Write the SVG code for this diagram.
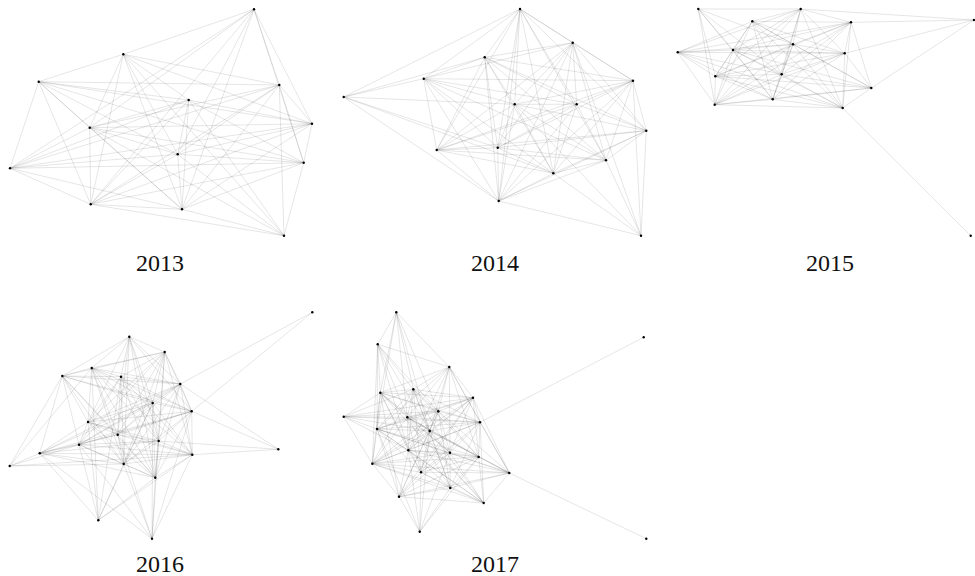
<svg xmlns="http://www.w3.org/2000/svg" width="975" height="576" viewBox="0 0 975 576">
<style>
.e{stroke:#000;stroke-opacity:0.13;stroke-width:0.8;fill:none}
.n{fill:#000}
.t{font-family:"Liberation Serif","Times New Roman",serif;font-size:24px;fill:#111;text-anchor:middle}
</style>
<rect width="975" height="576" fill="#fff"/>
<g id="connectors">
<g id="edges-2013">
<path class="e" d="M254 9.3L123.3 54.3M254 9.3L279.3 85M254 9.3L312 123.7M254 9.3L303.7 162.7M254 9.3L89.7 127.7M254 9.3L10 168.3M254 9.3L177.7 154.3M254 9.3L182 209.3M254 9.3L90.7 204.3"/>
<path class="e" d="M123.3 54.3L38.7 81.7M123.3 54.3L279.3 85M123.3 54.3L188.7 100M123.3 54.3L312 123.7M123.3 54.3L89.7 127.7M123.3 54.3L177.7 154.3M123.3 54.3L90.7 204.3M123.3 54.3L182 209.3M123.3 54.3L284 235.7"/>
<path class="e" d="M38.7 81.7L279.3 85M38.7 81.7L188.7 100M38.7 81.7L312 123.7M38.7 81.7L89.7 127.7M38.7 81.7L10 168.3M38.7 81.7L90.7 204.3M38.7 81.7L182 209.3M38.7 81.7L303.7 162.7M38.7 81.7L177.7 154.3"/>
<path class="e" d="M279.3 85L312 123.7M279.3 85L303.7 162.7M279.3 85L284 235.7M279.3 85L89.7 127.7M279.3 85L90.7 204.3M279.3 85L182 209.3M279.3 85L10 168.3M279.3 85L177.7 154.3"/>
<path class="e" d="M188.7 100L312 123.7M188.7 100L89.7 127.7M188.7 100L177.7 154.3M188.7 100L303.7 162.7M188.7 100L10 168.3M188.7 100L90.7 204.3M188.7 100L182 209.3M188.7 100L284 235.7"/>
<path class="e" d="M312 123.7L303.7 162.7M312 123.7L89.7 127.7M312 123.7L177.7 154.3M312 123.7L90.7 204.3M312 123.7L182 209.3M312 123.7L10 168.3"/>
<path class="e" d="M89.7 127.7L177.7 154.3M89.7 127.7L303.7 162.7M89.7 127.7L90.7 204.3M89.7 127.7L182 209.3M89.7 127.7L10 168.3M89.7 127.7L284 235.7"/>
<path class="e" d="M177.7 154.3L303.7 162.7M177.7 154.3L90.7 204.3M177.7 154.3L182 209.3M177.7 154.3L284 235.7M177.7 154.3L10 168.3"/>
<path class="e" d="M303.7 162.7L284 235.7M303.7 162.7L90.7 204.3M303.7 162.7L182 209.3M303.7 162.7L10 168.3"/>
<path class="e" d="M10 168.3L90.7 204.3M10 168.3L182 209.3M90.7 204.3L182 209.3M90.7 204.3L284 235.7M182 209.3L284 235.7"/>
</g>
<g id="edges-2014">
<path class="e" d="M520 9L572.7 42.7M520 9L484.7 57.3M520 9L423.7 78.7M520 9L343.7 97M520 9L633 80.7M520 9L514.7 104.3M520 9L576.7 104.3M520 9L497.7 147.7M520 9L498.7 201M520 9L553.3 173.3M520 9L606 160.3M520 9L436.7 150M520 9L646.3 130.7"/>
<path class="e" d="M572.7 42.7L484.7 57.3M572.7 42.7L423.7 78.7M572.7 42.7L633 80.7M572.7 42.7L514.7 104.3M572.7 42.7L576.7 104.3M572.7 42.7L436.7 150M572.7 42.7L497.7 147.7M572.7 42.7L606 160.3M572.7 42.7L553.3 173.3M572.7 42.7L498.7 201M572.7 42.7L641 235.7M572.7 42.7L646.3 130.7"/>
<path class="e" d="M484.7 57.3L423.7 78.7M484.7 57.3L633 80.7M484.7 57.3L514.7 104.3M484.7 57.3L576.7 104.3M484.7 57.3L436.7 150M484.7 57.3L497.7 147.7M484.7 57.3L606 160.3M484.7 57.3L553.3 173.3M484.7 57.3L498.7 201M484.7 57.3L646.3 130.7"/>
<path class="e" d="M423.7 78.7L633 80.7M423.7 78.7L514.7 104.3M423.7 78.7L576.7 104.3M423.7 78.7L436.7 150M423.7 78.7L497.7 147.7M423.7 78.7L606 160.3M423.7 78.7L553.3 173.3M423.7 78.7L498.7 201"/>
<path class="e" d="M633 80.7L514.7 104.3M633 80.7L576.7 104.3M633 80.7L646.3 130.7M633 80.7L436.7 150M633 80.7L497.7 147.7M633 80.7L606 160.3M633 80.7L553.3 173.3M633 80.7L498.7 201M633 80.7L641 235.7"/>
<path class="e" d="M343.7 97L484.7 57.3M343.7 97L423.7 78.7M343.7 97L514.7 104.3M343.7 97L497.7 147.7M343.7 97L498.7 201M343.7 97L553.3 173.3"/>
<path class="e" d="M514.7 104.3L576.7 104.3M514.7 104.3L646.3 130.7M514.7 104.3L436.7 150M514.7 104.3L497.7 147.7M514.7 104.3L606 160.3M514.7 104.3L553.3 173.3M514.7 104.3L498.7 201M514.7 104.3L641 235.7"/>
<path class="e" d="M576.7 104.3L646.3 130.7M576.7 104.3L436.7 150M576.7 104.3L497.7 147.7M576.7 104.3L606 160.3M576.7 104.3L553.3 173.3M576.7 104.3L498.7 201"/>
<path class="e" d="M646.3 130.7L436.7 150M646.3 130.7L497.7 147.7M646.3 130.7L606 160.3M646.3 130.7L553.3 173.3M646.3 130.7L498.7 201M646.3 130.7L641 235.7"/>
<path class="e" d="M436.7 150L497.7 147.7M436.7 150L606 160.3M436.7 150L553.3 173.3M436.7 150L498.7 201M497.7 147.7L606 160.3M497.7 147.7L553.3 173.3M497.7 147.7L498.7 201"/>
<path class="e" d="M606 160.3L553.3 173.3M606 160.3L498.7 201M606 160.3L641 235.7M553.3 173.3L498.7 201M553.3 173.3L641 235.7M498.7 201L641 235.7"/>
</g>
<g id="edges-2015">
<path class="e" d="M974 20L800.7 9M974 20L851 22.3M974 20L844.7 53.3M974 20L871.3 88M970.7 235.7L842.7 108"/>
<path class="e" d="M698.3 9L800.7 9M698.3 9L733 50M698.3 9L715.3 76.3M698.3 9L714.7 104.7M698.3 9L772.7 99.3M698.3 9L781.7 74.3M698.3 9L793 44.3"/>
<path class="e" d="M800.7 9L752.3 21.3M800.7 9L851 22.3M800.7 9L677.7 52.3M800.7 9L733 50M800.7 9L793 44.3M800.7 9L781.7 74.3M800.7 9L772.7 99.3M800.7 9L714.7 104.7M800.7 9L844.7 53.3M800.7 9L842.7 108M800.7 9L715.3 76.3"/>
<path class="e" d="M752.3 21.3L851 22.3M752.3 21.3L677.7 52.3M752.3 21.3L733 50M752.3 21.3L793 44.3M752.3 21.3L844.7 53.3M752.3 21.3L715.3 76.3M752.3 21.3L781.7 74.3M752.3 21.3L871.3 88M752.3 21.3L772.7 99.3M752.3 21.3L714.7 104.7M752.3 21.3L842.7 108"/>
<path class="e" d="M851 22.3L677.7 52.3M851 22.3L733 50M851 22.3L793 44.3M851 22.3L844.7 53.3M851 22.3L715.3 76.3M851 22.3L781.7 74.3M851 22.3L871.3 88M851 22.3L772.7 99.3M851 22.3L714.7 104.7M851 22.3L842.7 108"/>
<path class="e" d="M677.7 52.3L733 50M677.7 52.3L793 44.3M677.7 52.3L844.7 53.3M677.7 52.3L715.3 76.3M677.7 52.3L781.7 74.3M677.7 52.3L772.7 99.3M677.7 52.3L714.7 104.7M677.7 52.3L842.7 108"/>
<path class="e" d="M733 50L793 44.3M733 50L844.7 53.3M733 50L715.3 76.3M733 50L781.7 74.3M733 50L871.3 88M733 50L772.7 99.3M733 50L714.7 104.7M733 50L842.7 108"/>
<path class="e" d="M793 44.3L844.7 53.3M793 44.3L715.3 76.3M793 44.3L781.7 74.3M793 44.3L871.3 88M793 44.3L772.7 99.3M793 44.3L714.7 104.7M793 44.3L842.7 108"/>
<path class="e" d="M844.7 53.3L715.3 76.3M844.7 53.3L781.7 74.3M844.7 53.3L871.3 88M844.7 53.3L772.7 99.3M844.7 53.3L714.7 104.7M844.7 53.3L842.7 108"/>
<path class="e" d="M715.3 76.3L781.7 74.3M715.3 76.3L871.3 88M715.3 76.3L772.7 99.3M715.3 76.3L714.7 104.7M715.3 76.3L842.7 108M781.7 74.3L871.3 88M781.7 74.3L772.7 99.3M781.7 74.3L714.7 104.7M781.7 74.3L842.7 108"/>
<path class="e" d="M871.3 88L772.7 99.3M871.3 88L714.7 104.7M871.3 88L842.7 108M772.7 99.3L714.7 104.7M772.7 99.3L842.7 108M714.7 104.7L842.7 108"/>
</g>
<g id="edges-2016">
<path class="e" d="M312.3 312.3L180.3 384M312.3 312.3L191.7 411.3M278.3 449.3L180.3 384M278.3 449.3L191.7 411.3M278.3 449.3L158.7 441M278.3 449.3L192.3 454.7"/>
<path class="e" d="M9.7 466L39.7 453.3M9.7 466L62.3 376M9.7 466L91.7 368M9.7 466L123.7 464M9.7 466L192.3 454.7M9.7 466L79 444.7"/>
<path class="e" d="M98.3 520.3L39.7 453.3M98.3 520.3L79 444.7M98.3 520.3L88 422M98.3 520.3L91.7 368M98.3 520.3L121 376.7M98.3 520.3L123.7 464M98.3 520.3L155.3 477.7M98.3 520.3L192.3 454.7M98.3 520.3L152.7 403"/>
<path class="e" d="M152 538.7L39.7 453.3M152 538.7L117.7 434.7M152 538.7L123.7 464M152 538.7L155.3 477.7M152 538.7L192.3 454.7M152 538.7L158.7 441M152 538.7L191.7 411.3M152 538.7L152.7 403M152 538.7L79 444.7"/>
<path class="e" d="M129.3 336.7L164.7 352M129.3 336.7L91.7 368M129.3 336.7L62.3 376M129.3 336.7L121 376.7M129.3 336.7L180.3 384M129.3 336.7L152.7 403M129.3 336.7L88 422M129.3 336.7L117.7 434.7M129.3 336.7L158.7 441M129.3 336.7L191.7 411.3M129.3 336.7L123.7 464M129.3 336.7L155.3 477.7"/>
<path class="e" d="M164.7 352L91.7 368M164.7 352L62.3 376M164.7 352L121 376.7M164.7 352L180.3 384M164.7 352L152.7 403M164.7 352L191.7 411.3M164.7 352L88 422M164.7 352L117.7 434.7M164.7 352L158.7 441M164.7 352L79 444.7M164.7 352L192.3 454.7M164.7 352L123.7 464M164.7 352L155.3 477.7"/>
<path class="e" d="M91.7 368L62.3 376M91.7 368L121 376.7M91.7 368L180.3 384M91.7 368L152.7 403M91.7 368L191.7 411.3M91.7 368L88 422M91.7 368L117.7 434.7M91.7 368L158.7 441M91.7 368L192.3 454.7M91.7 368L123.7 464M91.7 368L155.3 477.7"/>
<path class="e" d="M62.3 376L121 376.7M62.3 376L180.3 384M62.3 376L191.7 411.3M62.3 376L88 422M62.3 376L117.7 434.7M62.3 376L79 444.7M62.3 376L39.7 453.3M62.3 376L123.7 464M62.3 376L155.3 477.7M62.3 376L152.7 403"/>
<path class="e" d="M121 376.7L180.3 384M121 376.7L152.7 403M121 376.7L191.7 411.3M121 376.7L88 422M121 376.7L117.7 434.7M121 376.7L158.7 441M121 376.7L79 444.7M121 376.7L192.3 454.7M121 376.7L123.7 464M121 376.7L155.3 477.7"/>
<path class="e" d="M180.3 384L152.7 403M180.3 384L191.7 411.3M180.3 384L88 422M180.3 384L117.7 434.7M180.3 384L158.7 441M180.3 384L79 444.7M180.3 384L39.7 453.3M180.3 384L192.3 454.7M180.3 384L123.7 464M180.3 384L155.3 477.7"/>
<path class="e" d="M152.7 403L191.7 411.3M152.7 403L88 422M152.7 403L117.7 434.7M152.7 403L158.7 441M152.7 403L79 444.7M152.7 403L39.7 453.3M152.7 403L192.3 454.7M152.7 403L123.7 464M152.7 403L155.3 477.7"/>
<path class="e" d="M191.7 411.3L88 422M191.7 411.3L117.7 434.7M191.7 411.3L158.7 441M191.7 411.3L79 444.7M191.7 411.3L39.7 453.3M191.7 411.3L192.3 454.7M191.7 411.3L123.7 464M191.7 411.3L155.3 477.7"/>
<path class="e" d="M88 422L117.7 434.7M88 422L158.7 441M88 422L79 444.7M88 422L39.7 453.3M88 422L192.3 454.7M88 422L123.7 464M88 422L155.3 477.7"/>
<path class="e" d="M117.7 434.7L158.7 441M117.7 434.7L79 444.7M117.7 434.7L39.7 453.3M117.7 434.7L192.3 454.7M117.7 434.7L123.7 464M117.7 434.7L155.3 477.7"/>
<path class="e" d="M158.7 441L79 444.7M158.7 441L39.7 453.3M158.7 441L192.3 454.7M158.7 441L123.7 464M158.7 441L155.3 477.7M79 444.7L39.7 453.3M79 444.7L192.3 454.7M79 444.7L123.7 464M79 444.7L155.3 477.7"/>
<path class="e" d="M39.7 453.3L192.3 454.7M39.7 453.3L123.7 464M39.7 453.3L155.3 477.7M192.3 454.7L123.7 464M192.3 454.7L155.3 477.7M123.7 464L155.3 477.7"/>
</g>
<g id="edges-2017">
<path class="e" d="M643.7 337.3L480 422.3M646.3 538.7L509.3 473"/>
<path class="e" d="M396.3 312.3L377.7 344.3M396.3 312.3L449.3 367M396.3 312.3L380.3 392.7M396.3 312.3L377 429M396.3 312.3L407.3 417.3M396.3 312.3L413.3 389.3M396.3 312.3L438.3 411.3M396.3 312.3L429.7 431"/>
<path class="e" d="M377.7 344.3L449.3 367M377.7 344.3L380.3 392.7M377.7 344.3L377 429M377.7 344.3L372.3 463.7M377.7 344.3L407.3 417.3M377.7 344.3L429.7 431M377.7 344.3L438.3 411.3M377.7 344.3L408.3 450.3M377.7 344.3L413.3 389.3"/>
<path class="e" d="M343.7 416.7L380.3 392.7M343.7 416.7L377 429M343.7 416.7L372.3 463.7M343.7 416.7L407.3 417.3M343.7 416.7L438.3 411.3M343.7 416.7L429.7 431M343.7 416.7L408.3 450.3M343.7 416.7L413.3 389.3M343.7 416.7L480 422.3M343.7 416.7L473 397.7"/>
<path class="e" d="M419.7 531.7L399 496.7M419.7 531.7L408.3 450.3M419.7 531.7L421 472.3M419.7 531.7L450.3 488M419.7 531.7L450 452.7M419.7 531.7L429.7 431M419.7 531.7L377 429M419.7 531.7L478.7 457"/>
<path class="e" d="M449.3 367L413.3 389.3M449.3 367L380.3 392.7M449.3 367L473 397.7M449.3 367L438.3 411.3M449.3 367L407.3 417.3M449.3 367L480 422.3M449.3 367L429.7 431M449.3 367L377 429M449.3 367L408.3 450.3M449.3 367L450 452.7M449.3 367L478.7 457M449.3 367L509.3 473"/>
<path class="e" d="M413.3 389.3L380.3 392.7M413.3 389.3L473 397.7M413.3 389.3L438.3 411.3M413.3 389.3L407.3 417.3M413.3 389.3L480 422.3M413.3 389.3L429.7 431M413.3 389.3L377 429M413.3 389.3L408.3 450.3M413.3 389.3L450 452.7M413.3 389.3L478.7 457M413.3 389.3L372.3 463.7M413.3 389.3L421 472.3M413.3 389.3L450.3 488"/>
<path class="e" d="M380.3 392.7L473 397.7M380.3 392.7L438.3 411.3M380.3 392.7L407.3 417.3M380.3 392.7L480 422.3M380.3 392.7L429.7 431M380.3 392.7L377 429M380.3 392.7L408.3 450.3M380.3 392.7L450 452.7M380.3 392.7L372.3 463.7M380.3 392.7L421 472.3M380.3 392.7L399 496.7M380.3 392.7L483.7 503"/>
<path class="e" d="M473 397.7L438.3 411.3M473 397.7L407.3 417.3M473 397.7L480 422.3M473 397.7L429.7 431M473 397.7L377 429M473 397.7L408.3 450.3M473 397.7L450 452.7M473 397.7L478.7 457M473 397.7L372.3 463.7M473 397.7L421 472.3M473 397.7L509.3 473M473 397.7L399 496.7"/>
<path class="e" d="M438.3 411.3L407.3 417.3M438.3 411.3L480 422.3M438.3 411.3L429.7 431M438.3 411.3L377 429M438.3 411.3L408.3 450.3M438.3 411.3L450 452.7M438.3 411.3L478.7 457M438.3 411.3L372.3 463.7M438.3 411.3L421 472.3M438.3 411.3L509.3 473M438.3 411.3L450.3 488M438.3 411.3L399 496.7"/>
<path class="e" d="M407.3 417.3L480 422.3M407.3 417.3L429.7 431M407.3 417.3L377 429M407.3 417.3L408.3 450.3M407.3 417.3L450 452.7M407.3 417.3L478.7 457M407.3 417.3L372.3 463.7M407.3 417.3L421 472.3M407.3 417.3L509.3 473M407.3 417.3L450.3 488M407.3 417.3L483.7 503"/>
<path class="e" d="M480 422.3L429.7 431M480 422.3L377 429M480 422.3L408.3 450.3M480 422.3L450 452.7M480 422.3L478.7 457M480 422.3L372.3 463.7M480 422.3L421 472.3M480 422.3L509.3 473M480 422.3L450.3 488M480 422.3L483.7 503"/>
<path class="e" d="M429.7 431L377 429M429.7 431L408.3 450.3M429.7 431L450 452.7M429.7 431L478.7 457M429.7 431L372.3 463.7M429.7 431L421 472.3M429.7 431L509.3 473M429.7 431L450.3 488M429.7 431L399 496.7M429.7 431L483.7 503"/>
<path class="e" d="M377 429L408.3 450.3M377 429L450 452.7M377 429L478.7 457M377 429L372.3 463.7M377 429L421 472.3M377 429L509.3 473M377 429L399 496.7M377 429L483.7 503"/>
<path class="e" d="M408.3 450.3L450 452.7M408.3 450.3L478.7 457M408.3 450.3L372.3 463.7M408.3 450.3L421 472.3M408.3 450.3L509.3 473M408.3 450.3L450.3 488M408.3 450.3L399 496.7M408.3 450.3L483.7 503"/>
<path class="e" d="M450 452.7L478.7 457M450 452.7L372.3 463.7M450 452.7L421 472.3M450 452.7L509.3 473M450 452.7L450.3 488M450 452.7L399 496.7M450 452.7L483.7 503"/>
<path class="e" d="M478.7 457L372.3 463.7M478.7 457L421 472.3M478.7 457L509.3 473M478.7 457L450.3 488M478.7 457L399 496.7M478.7 457L483.7 503M372.3 463.7L421 472.3M372.3 463.7L509.3 473M372.3 463.7L450.3 488M372.3 463.7L399 496.7M372.3 463.7L483.7 503"/>
<path class="e" d="M421 472.3L509.3 473M421 472.3L450.3 488M421 472.3L399 496.7M421 472.3L483.7 503M509.3 473L450.3 488M509.3 473L399 496.7M509.3 473L483.7 503M450.3 488L399 496.7M450.3 488L483.7 503M399 496.7L483.7 503"/>
</g>
</g>
<g id="nodes-2013">
<g id="n13a"><circle class="n" cx="254" cy="9.3" r="1.2"/></g>
<g id="n13b"><circle class="n" cx="123.3" cy="54.3" r="1.2"/></g>
<g id="n13c"><circle class="n" cx="38.7" cy="81.7" r="1.2"/></g>
<g id="n13d"><circle class="n" cx="279.3" cy="85" r="1.2"/></g>
<g id="n13e"><circle class="n" cx="188.7" cy="100" r="1.2"/></g>
<g id="n13f"><circle class="n" cx="312" cy="123.7" r="1.2"/></g>
<g id="n13g"><circle class="n" cx="89.7" cy="127.7" r="1.2"/></g>
<g id="n13h"><circle class="n" cx="177.7" cy="154.3" r="1.2"/></g>
<g id="n13i"><circle class="n" cx="303.7" cy="162.7" r="1.2"/></g>
<g id="n13j"><circle class="n" cx="10" cy="168.3" r="1.2"/></g>
<g id="n13k"><circle class="n" cx="90.7" cy="204.3" r="1.2"/></g>
<g id="n13l"><circle class="n" cx="182" cy="209.3" r="1.2"/></g>
<g id="n13m"><circle class="n" cx="284" cy="235.7" r="1.2"/></g>
</g>
<g id="nodes-2014">
<g id="n14a"><circle class="n" cx="520" cy="9" r="1.2"/></g>
<g id="n14b"><circle class="n" cx="572.7" cy="42.7" r="1.2"/></g>
<g id="n14c"><circle class="n" cx="484.7" cy="57.3" r="1.2"/></g>
<g id="n14d"><circle class="n" cx="423.7" cy="78.7" r="1.2"/></g>
<g id="n14e"><circle class="n" cx="633" cy="80.7" r="1.2"/></g>
<g id="n14f"><circle class="n" cx="343.7" cy="97" r="1.2"/></g>
<g id="n14g"><circle class="n" cx="514.7" cy="104.3" r="1.2"/></g>
<g id="n14h"><circle class="n" cx="576.7" cy="104.3" r="1.2"/></g>
<g id="n14i"><circle class="n" cx="646.3" cy="130.7" r="1.2"/></g>
<g id="n14j"><circle class="n" cx="436.7" cy="150" r="1.2"/></g>
<g id="n14k"><circle class="n" cx="497.7" cy="147.7" r="1.2"/></g>
<g id="n14l"><circle class="n" cx="606" cy="160.3" r="1.2"/></g>
<g id="n14m"><circle class="n" cx="553.3" cy="173.3" r="1.2"/></g>
<g id="n14n"><circle class="n" cx="498.7" cy="201" r="1.2"/></g>
<g id="n14o"><circle class="n" cx="641" cy="235.7" r="1.2"/></g>
</g>
<g id="nodes-2015">
<g id="n15a"><circle class="n" cx="698.3" cy="9" r="1.2"/></g>
<g id="n15b"><circle class="n" cx="800.7" cy="9" r="1.2"/></g>
<g id="n15c"><circle class="n" cx="752.3" cy="21.3" r="1.2"/></g>
<g id="n15d"><circle class="n" cx="851" cy="22.3" r="1.2"/></g>
<g id="n15e"><circle class="n" cx="974" cy="20" r="1.2"/></g>
<g id="n15f"><circle class="n" cx="677.7" cy="52.3" r="1.2"/></g>
<g id="n15g"><circle class="n" cx="733" cy="50" r="1.2"/></g>
<g id="n15h"><circle class="n" cx="793" cy="44.3" r="1.2"/></g>
<g id="n15i"><circle class="n" cx="844.7" cy="53.3" r="1.2"/></g>
<g id="n15j"><circle class="n" cx="715.3" cy="76.3" r="1.2"/></g>
<g id="n15k"><circle class="n" cx="781.7" cy="74.3" r="1.2"/></g>
<g id="n15l"><circle class="n" cx="871.3" cy="88" r="1.2"/></g>
<g id="n15m"><circle class="n" cx="772.7" cy="99.3" r="1.2"/></g>
<g id="n15n"><circle class="n" cx="714.7" cy="104.7" r="1.2"/></g>
<g id="n15o"><circle class="n" cx="842.7" cy="108" r="1.2"/></g>
<g id="n15p"><circle class="n" cx="970.7" cy="235.7" r="1.2"/></g>
</g>
<g id="nodes-2016">
<g id="n16a"><circle class="n" cx="312.3" cy="312.3" r="1.2"/></g>
<g id="n16b"><circle class="n" cx="129.3" cy="336.7" r="1.2"/></g>
<g id="n16c"><circle class="n" cx="164.7" cy="352" r="1.2"/></g>
<g id="n16d"><circle class="n" cx="91.7" cy="368" r="1.2"/></g>
<g id="n16e"><circle class="n" cx="62.3" cy="376" r="1.2"/></g>
<g id="n16f"><circle class="n" cx="121" cy="376.7" r="1.2"/></g>
<g id="n16g"><circle class="n" cx="180.3" cy="384" r="1.2"/></g>
<g id="n16h"><circle class="n" cx="152.7" cy="403" r="1.2"/></g>
<g id="n16i"><circle class="n" cx="191.7" cy="411.3" r="1.2"/></g>
<g id="n16j"><circle class="n" cx="88" cy="422" r="1.2"/></g>
<g id="n16k"><circle class="n" cx="117.7" cy="434.7" r="1.2"/></g>
<g id="n16l"><circle class="n" cx="158.7" cy="441" r="1.2"/></g>
<g id="n16m"><circle class="n" cx="79" cy="444.7" r="1.2"/></g>
<g id="n16n"><circle class="n" cx="278.3" cy="449.3" r="1.2"/></g>
<g id="n16o"><circle class="n" cx="39.7" cy="453.3" r="1.2"/></g>
<g id="n16p"><circle class="n" cx="192.3" cy="454.7" r="1.2"/></g>
<g id="n16q"><circle class="n" cx="123.7" cy="464" r="1.2"/></g>
<g id="n16r"><circle class="n" cx="9.7" cy="466" r="1.2"/></g>
<g id="n16s"><circle class="n" cx="155.3" cy="477.7" r="1.2"/></g>
<g id="n16t"><circle class="n" cx="98.3" cy="520.3" r="1.2"/></g>
<g id="n16u"><circle class="n" cx="152" cy="538.7" r="1.2"/></g>
</g>
<g id="nodes-2017">
<g id="n17a"><circle class="n" cx="396.3" cy="312.3" r="1.2"/></g>
<g id="n17b"><circle class="n" cx="377.7" cy="344.3" r="1.2"/></g>
<g id="n17c"><circle class="n" cx="449.3" cy="367" r="1.2"/></g>
<g id="n17d"><circle class="n" cx="643.7" cy="337.3" r="1.2"/></g>
<g id="n17e"><circle class="n" cx="413.3" cy="389.3" r="1.2"/></g>
<g id="n17f"><circle class="n" cx="380.3" cy="392.7" r="1.2"/></g>
<g id="n17g"><circle class="n" cx="473" cy="397.7" r="1.2"/></g>
<g id="n17h"><circle class="n" cx="438.3" cy="411.3" r="1.2"/></g>
<g id="n17i"><circle class="n" cx="343.7" cy="416.7" r="1.2"/></g>
<g id="n17j"><circle class="n" cx="407.3" cy="417.3" r="1.2"/></g>
<g id="n17k"><circle class="n" cx="480" cy="422.3" r="1.2"/></g>
<g id="n17l"><circle class="n" cx="429.7" cy="431" r="1.2"/></g>
<g id="n17m"><circle class="n" cx="377" cy="429" r="1.2"/></g>
<g id="n17n"><circle class="n" cx="408.3" cy="450.3" r="1.2"/></g>
<g id="n17o"><circle class="n" cx="450" cy="452.7" r="1.2"/></g>
<g id="n17p"><circle class="n" cx="478.7" cy="457" r="1.2"/></g>
<g id="n17q"><circle class="n" cx="372.3" cy="463.7" r="1.2"/></g>
<g id="n17r"><circle class="n" cx="421" cy="472.3" r="1.2"/></g>
<g id="n17s"><circle class="n" cx="509.3" cy="473" r="1.2"/></g>
<g id="n17t"><circle class="n" cx="450.3" cy="488" r="1.2"/></g>
<g id="n17u"><circle class="n" cx="399" cy="496.7" r="1.2"/></g>
<g id="n17v"><circle class="n" cx="483.7" cy="503" r="1.2"/></g>
<g id="n17w"><circle class="n" cx="419.7" cy="531.7" r="1.2"/></g>
<g id="n17x"><circle class="n" cx="646.3" cy="538.7" r="1.2"/></g>
</g>
<g id="labels">
<text class="t" x="160" y="270.5">2013</text>
<text class="t" x="495" y="270.5">2014</text>
<text class="t" x="830" y="270.5">2015</text>
<text class="t" x="160" y="571.5">2016</text>
<text class="t" x="495" y="571.5">2017</text>
</g>
</svg>
